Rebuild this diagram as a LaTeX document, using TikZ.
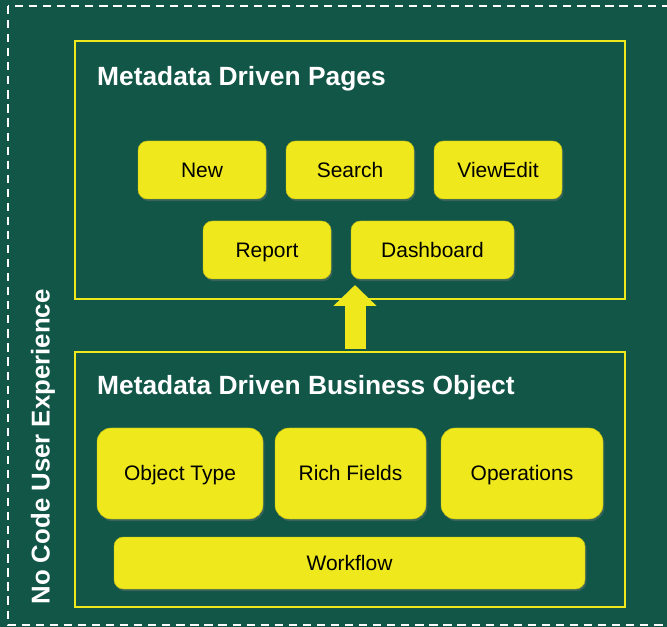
\documentclass[tikz,border=0pt]{standalone}
\usepackage{fontspec}
\setmainfont{Liberation Sans}
\usetikzlibrary{shadows, arrows.meta}

\definecolor{boardgreen}{RGB}{18,86,72}
\definecolor{boxyellow}{RGB}{238,232,28}
\definecolor{edgeyellow}{RGB}{196,190,20}

\tikzset{
  frame/.style={draw=boxyellow, line width=1.6pt},
  title/.style={anchor=west, text=white, font=\fontsize{22.5}{26}\selectfont\bfseries},
  pagebox/.style={fill=boxyellow, draw=edgeyellow, line width=0.4pt, rounded corners=8pt,
    minimum height=58*0.03cm, text=black, font=\fontsize{17.9}{21}\selectfont,
    text height=12.8pt, text depth=0pt,
    drop shadow={opacity=0.35, shadow xshift=1.2pt, shadow yshift=-1.8pt}},
  objbox/.style={pagebox, rounded corners=12pt}
}

\begin{document}
\begin{tikzpicture}[x=0.03cm, y=-0.03cm]
\clip (0,0) rectangle (667,627);
\fill [boardgreen] (0,0) rectangle (667,627);

%the outer dashed border
\draw [white, line width=1.7pt, dash pattern=on 7pt off 5pt] (8,6) rectangle (690,625);
\node [text=white, rotate=90, font=\fontsize{22}{26}\selectfont\bfseries] (nocode) at (43,447) {No Code User Experience};

%the pages
\draw [frame] (75,41) rectangle (625,299);
\coordinate (pagesbottom) at (355,299);
\node [title] (pages) at (93,79) {Metadata Driven Pages};

\node [pagebox, minimum width=128*0.03cm] (new) at (202,170) {New};
\node [pagebox, minimum width=128*0.03cm] (search) at (350,170) {Search};
\node [pagebox, minimum width=128*0.03cm] (viewedit) at (498,170) {ViewEdit};
\node [pagebox, minimum width=128*0.03cm] (report) at (267,250) {Report};
\node [pagebox, minimum width=163*0.03cm] (dashboard) at (432.5,250) {Dashboard};

%the business object
\draw [frame] (75,352) rectangle (625,607);
\coordinate (objecttop) at (355,349);
\node [title] (business) at (93,388) {Metadata Driven Business Object};

\node [objbox, minimum width=166*0.03cm, minimum height=91*0.03cm] (objtype) at (180,473.5) {Object Type};
\node [objbox, minimum width=151*0.03cm, minimum height=91*0.03cm] (richfields) at (350.5,473.5) {Rich Fields};
\node [objbox, minimum width=162*0.03cm, minimum height=91*0.03cm] (operations) at (522,473.5) {Operations};
\node [pagebox, minimum width=471*0.03cm, minimum height=52*0.03cm] (workflow) at (349.5,563) {Workflow};

%the arrow
\draw [boxyellow, line width=21*0.03cm, -{Triangle[width=42*0.03cm, length=21*0.03cm]}]
  (objecttop) -- ([yshift=14*0.03cm]pagesbottom);
\end{tikzpicture}
\end{document}
